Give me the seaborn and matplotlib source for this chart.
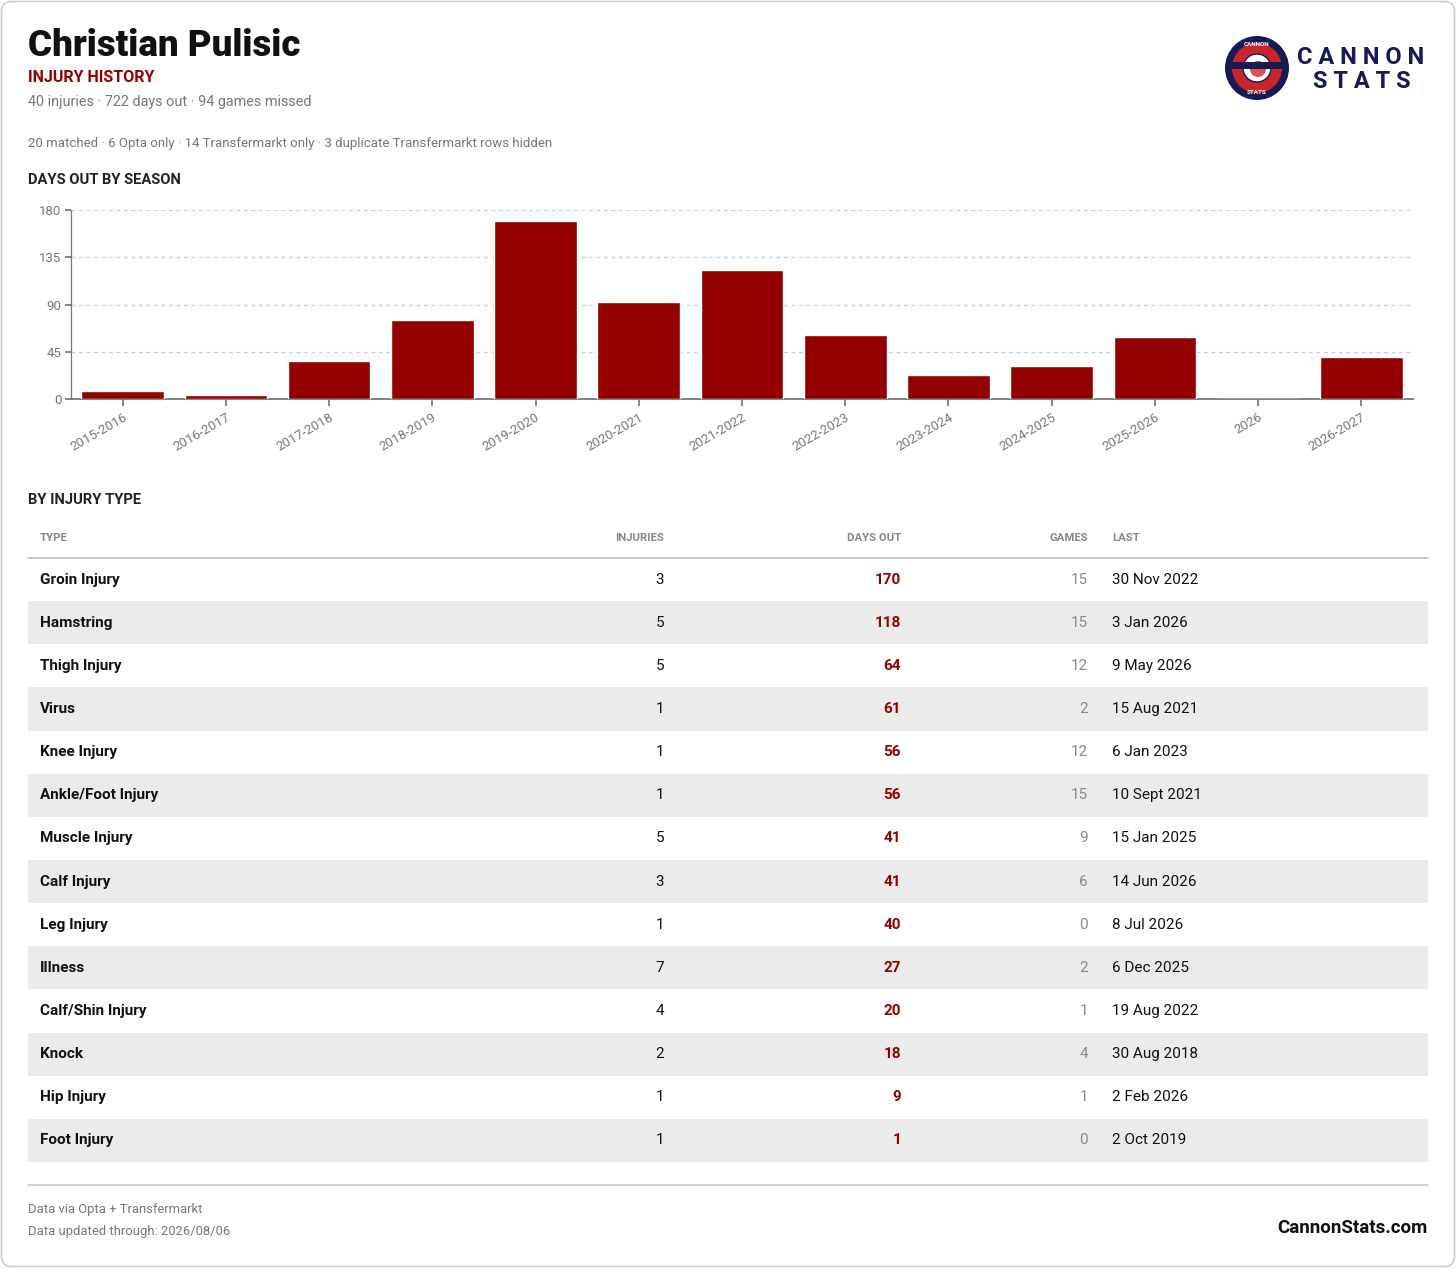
import numpy as np
import pandas as pd
import seaborn as sns
import matplotlib.pyplot as plt
from matplotlib.patches import FancyBboxPatch, Circle, Rectangle

# 데이터
seasons = ['2015-2016', '2016-2017', '2017-2018', '2018-2019', '2019-2020', '2020-2021',
           '2021-2022', '2022-2023', '2023-2024', '2024-2025', '2025-2026', '2026', '2026-2027']
season_days = [8, 4, 36, 75, 170, 92, 123, 61, 23, 31, 59, 0, 40]

injury_types = ['Groin Injury', 'Hamstring', 'Thigh Injury', 'Virus', 'Knee Injury',
                'Ankle/Foot Injury', 'Muscle Injury', 'Calf Injury', 'Leg Injury', 'Illness',
                'Calf/Shin Injury', 'Knock', 'Hip Injury', 'Foot Injury']
injury_counts = [3, 5, 5, 1, 1, 1, 5, 3, 1, 7, 4, 2, 1, 1]
injury_days = [170, 118, 64, 61, 56, 56, 41, 41, 40, 27, 20, 18, 9, 1]
injury_games = [15, 15, 12, 2, 12, 15, 9, 6, 0, 2, 1, 4, 1, 0]
injury_last = ['30 Nov 2022', '3 Jan 2026', '9 May 2026', '15 Aug 2021', '6 Jan 2023',
               '10 Sept 2021', '15 Jan 2025', '14 Jun 2026', '8 Jul 2026', '6 Dec 2025',
               '19 Aug 2022', '30 Aug 2018', '2 Feb 2026', '2 Oct 2019']

season_df = pd.DataFrame({'season': seasons, 'days': season_days})

RED = '#930000'
NAVY = '#161a55'
GRAY = '#777777'

sns.set_theme(style='white')
plt.rcParams['font.family'] = ['Roboto', 'DejaVu Sans']

W, H = 1456, 1269
fig = plt.figure(figsize=(W / 100, H / 100), dpi=100)
fig.patch.set_facecolor('white')

# 배경 축 (픽셀 좌표)
bg = fig.add_axes([0, 0, 1, 1], zorder=0)
bg.set_xlim(0, W)
bg.set_ylim(H, 0)
bg.axis('off')

bg.add_patch(FancyBboxPatch((1.5, 1.5), W - 3, H - 4, boxstyle='round,pad=0,rounding_size=10',
                            fc='white', ec='#d0d0d0', lw=1.2))

# 헤더
bg.text(28, 46, 'Christian Pulisic', fontsize=26.5, fontweight='black', color='#111111', va='center')
bg.text(28, 77, 'INJURY HISTORY', fontsize=11.5, fontweight='bold', color=RED, va='center')
bg.text(28, 102, '40 injuries · 722 days out · 94 games missed', fontsize=10.4, color=GRAY, va='center')
bg.text(28, 144, '20 matched · 6 Opta only · 14 Transfermarkt only · 3 duplicate Transfermarkt rows hidden',
        fontsize=9.5, color=GRAY, va='center')
bg.text(28, 180, 'DAYS OUT BY SEASON', fontsize=10.6, fontweight='bold', color='#222222', va='center')
bg.text(28, 500, 'BY INJURY TYPE', fontsize=10.6, fontweight='bold', color='#222222', va='center')

# 로고
cx, cy = 1257, 68
bg.add_patch(Circle((cx, cy), 32, fc=NAVY, ec='none'))
bg.add_patch(Circle((cx, cy), 25, fc='#c8262c', ec='none'))
bg.add_patch(Circle((cx, cy), 14, fc='white', ec=NAVY, lw=1))
bg.add_patch(Circle((cx + 1, cy + 1), 8, fc='#d9534f', ec='none'))
bg.add_patch(Rectangle((cx - 26, cy - 6), 52, 7, fc=NAVY, ec='none'))
bg.text(cx, cy - 24, 'CANNON', fontsize=4.5, fontweight='bold', color='white', ha='center', va='center')
bg.text(cx, cy + 25, 'STATS', fontsize=4.5, fontweight='bold', color='white', ha='center', va='center')
bg.text(1361, 57, 'C A N N O N', fontsize=17, fontweight='bold', color=NAVY, ha='center', va='center')
bg.text(1362, 81, 'S T A T S', fontsize=17, fontweight='bold', color=NAVY, ha='center', va='center')

# 시즌별 막대 그래프
ax = fig.add_axes([71 / W, 1 - 399 / H, (1413 - 71) / W, (399 - 210) / H], zorder=2)
sns.barplot(data=season_df, x='season', y='days', color=RED, width=0.8, saturation=1, ax=ax, zorder=3)
ax.set_ylim(0, 180)
ax.set_xlim(-0.5, len(seasons) - 0.5)
ax.set_yticks([0, 45, 90, 135, 180])
ax.set_xlabel('')
ax.set_ylabel('')
ax.set_facecolor('none')
ax.grid(axis='y', color='#cccccc', linestyle=(0, (3, 3)), lw=0.9, zorder=0)
for s in ['top', 'right']:
    ax.spines[s].set_visible(False)
ax.spines['left'].set_color('#777777')
ax.spines['left'].set_linewidth(0.9)
ax.spines['bottom'].set_color('#777777')
ax.spines['bottom'].set_linewidth(1.3)
ax.tick_params(axis='y', labelsize=9.5, labelcolor=GRAY, length=4, color='#777777', pad=3, left=True)
ax.tick_params(axis='x', labelsize=9.5, labelcolor=GRAY, length=5, color='#777777', bottom=True)
plt.setp(ax.get_xticklabels(), rotation=30, ha='right', rotation_mode='anchor')

# 부상 유형 표
n = len(injury_types)
tb = fig.add_axes([28 / W, 1 - 1162 / H, 1400 / W, (1162 - 558) / H], zorder=1)
tb.set_xlim(28, 1428)
tb.set_ylim(n, 0)
tb.axis('off')
fs = 11
for i in range(n):
    if i % 2 == 1:
        tb.axhspan(i, i + 1, color='#ebebeb', lw=0)
    y = i + 0.5
    tb.text(40, y, injury_types[i], fontsize=fs, fontweight='bold', color='#111111', va='center')
    tb.text(664, y, str(injury_counts[i]), fontsize=fs, color='#111111', va='center', ha='right')
    tb.text(901, y, str(injury_days[i]), fontsize=fs, fontweight='bold', color=RED, va='center', ha='right')
    tb.text(1088, y, str(injury_games[i]), fontsize=fs, color='#888888', va='center', ha='right')
    tb.text(1112, y, injury_last[i], fontsize=fs, color='#111111', va='center')

for label, x, ha in [('TYPE', 40, 'left'), ('INJURIES', 664, 'right'), ('DAYS OUT', 901, 'right'),
                     ('GAMES', 1088, 'right'), ('LAST', 1112, 'left')]:
    bg.text(x, 538, label, fontsize=8.2, fontweight='bold', color='#888888', ha=ha, va='center')
bg.plot([28, 1428], [558, 558], color='#cccccc', lw=1.5)

# 푸터
bg.plot([28, 1428], [1185, 1185], color='#cccccc', lw=1.3)
bg.text(28, 1209, 'Data via Opta + Transfermarkt', fontsize=9.4, color=GRAY, va='center')
bg.text(28, 1232, 'Data updated through: 2026/08/06', fontsize=9.4, color=GRAY, va='center')
bg.text(1428, 1228, 'CannonStats.com', fontsize=13.5, fontweight='bold', color='#111111', ha='right', va='center')

fig.savefig('out.png', dpi=100, facecolor='white')
